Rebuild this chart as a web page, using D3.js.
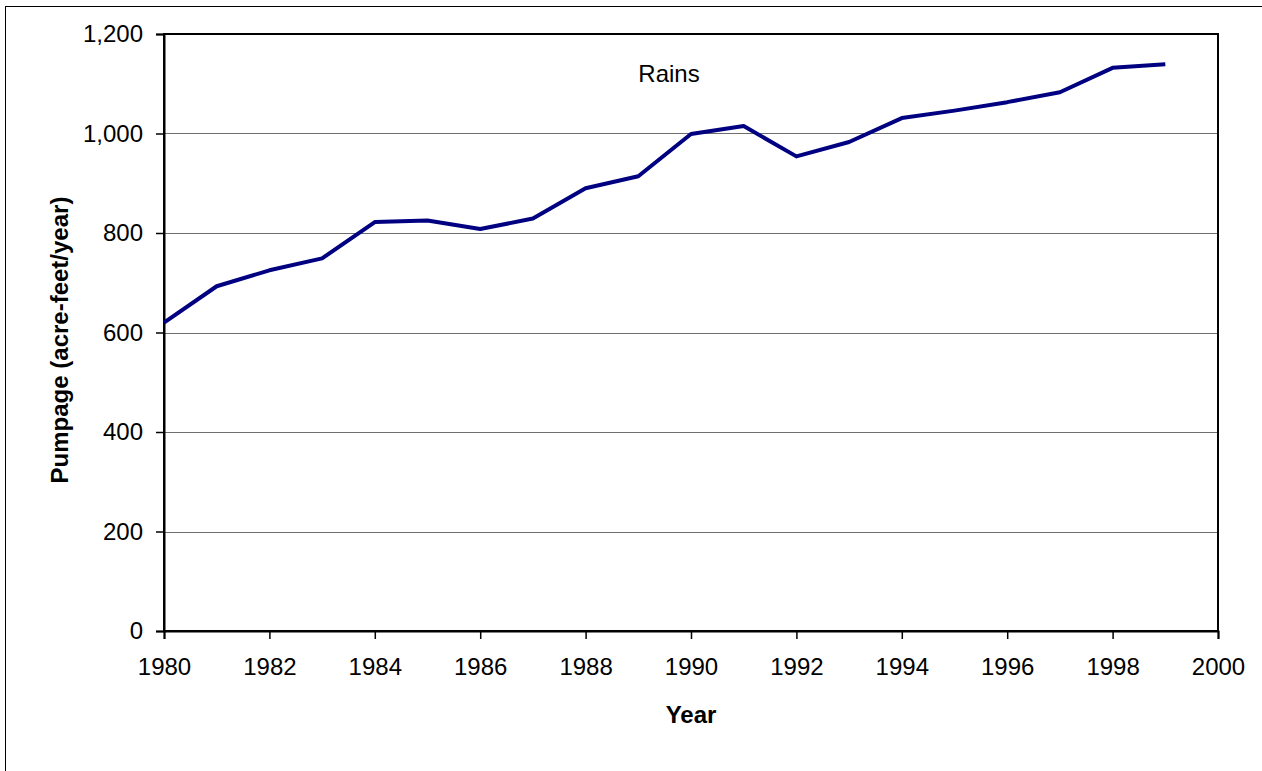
<!DOCTYPE html>
<html>
<head>
<meta charset="utf-8">
<script src="https://cdn.jsdelivr.net/npm/d3@7"></script>
<style>
  html, body { margin: 0; padding: 0; background: #fff; }
  svg { display: block; }
  text { font-family: "Liberation Sans", Arial, sans-serif; fill: #000; }
</style>
</head>
<body>
<svg id="chart" width="1262" height="771"></svg>
<script>
const years = [1980,1981,1982,1983,1984,1985,1986,1987,1988,1989,1990,1991,1992,1993,1994,1995,1996,1997,1998,1999];
const pumpage = [620,693,725,749,822,825,808,829,890,914,999,1015,954,983,1031,1046,1063,1083,1132,1139];
const yTicks = [0,200,400,600,800,1000,1200];
const xTicks = [1980,1982,1984,1986,1988,1990,1992,1994,1996,1998,2000];
const seriesName = "Rains";
const xTitle = "Year";
const yTitle = "Pumpage (acre-feet/year)";

const svg = d3.select("#chart");
const m = {left: 164, top: 34, right: 1218, bottom: 631};

// outer frame
svg.append("rect").attr("x", 5.5).attr("y", 6.5).attr("width", 1300).attr("height", 800)
  .attr("fill", "none").attr("stroke", "#000").attr("stroke-width", 1);

const x = d3.scaleLinear().domain([1980, 2000]).range([m.left, m.right]);
const y = d3.scaleLinear().domain([0, 1200]).range([m.bottom, m.top]);

// gridlines
svg.append("g").selectAll("line").data(yTicks.filter(d => d > 0 && d < 1200)).join("line")
  .attr("x1", m.left).attr("x2", m.right)
  .attr("y1", d => Math.round(y(d)) + 0.5).attr("y2", d => Math.round(y(d)) + 0.5)
  .attr("stroke", "#6e6e6e").attr("stroke-width", 1);

// plot frame
svg.append("rect").attr("x", m.left).attr("y", m.top)
  .attr("width", m.right - m.left).attr("height", m.bottom - m.top)
  .attr("fill", "none").attr("stroke", "#000").attr("stroke-width", 2);

// y axis
const yAxis = svg.append("g").attr("transform", `translate(${m.left},0)`)
  .call(d3.axisLeft(y).tickValues(yTicks).tickSize(8).tickPadding(13).tickFormat(d3.format(",")));
yAxis.select(".domain").attr("stroke", "#000").attr("stroke-width", 2);
yAxis.selectAll(".tick line").attr("stroke", "#000").attr("stroke-width", 1.5);
yAxis.selectAll(".tick text").attr("font-size", 24).attr("font-family", "Liberation Sans, Arial, sans-serif");

// x axis
const xAxis = svg.append("g").attr("transform", `translate(0,${m.bottom})`)
  .call(d3.axisBottom(x).tickValues(xTicks).tickSize(8).tickPadding(19).tickFormat(d3.format("d")));
xAxis.select(".domain").attr("stroke", "#000").attr("stroke-width", 2);
xAxis.selectAll(".tick line").attr("stroke", "#000").attr("stroke-width", 1.5);
xAxis.selectAll(".tick text").attr("font-size", 24).attr("font-family", "Liberation Sans, Arial, sans-serif");

// line
const line = d3.line().x((d, i) => x(years[i])).y(d => y(d));
svg.append("path").datum(pumpage).attr("d", line)
  .attr("fill", "none").attr("stroke", "#000080").attr("stroke-width", 4)
  .attr("stroke-linejoin", "round");

// series label
svg.append("text").attr("x", 669).attr("y", 82).attr("text-anchor", "middle")
  .attr("font-size", 24).text(seriesName);

// axis titles
svg.append("text").attr("x", 691).attr("y", 723).attr("text-anchor", "middle")
  .attr("font-size", 24).attr("font-weight", "bold").text(xTitle);
svg.append("text").attr("transform", "translate(68,340) rotate(-90)").attr("text-anchor", "middle")
  .attr("font-size", 24).attr("font-weight", "bold").text(yTitle);
</script>
</body>
</html>
